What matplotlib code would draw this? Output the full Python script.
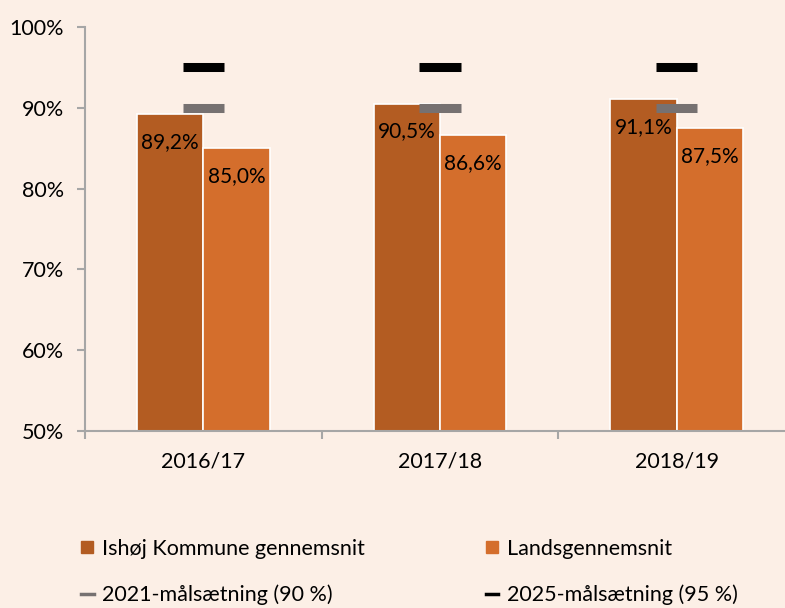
import numpy as np
import matplotlib
matplotlib.use("Agg")
import matplotlib.pyplot as plt
from matplotlib.lines import Line2D

# Data
years = ["2016/17", "2017/18", "2018/19"]
ishoj = [89.2, 90.5, 91.1]      # Ishøj Kommune gennemsnit (%)
lands = [85.0, 86.6, 87.5]      # Landsgennemsnit (%)
goal_2021 = [90, 90, 90]        # 2021-målsætning
goal_2025 = [95, 95, 95]        # 2025-målsætning

# Colours
bg = "#FCEFE6"
c_ishoj = "#B35C22"
c_lands = "#D46E2C"
c_2021 = "#767171"
c_2025 = "#000000"
c_axis = "#A6A6A6"

plt.rcParams["font.family"] = ["Lato", "DejaVu Sans"]

fig = plt.figure(figsize=(7.85, 6.08), dpi=100, facecolor=bg)
ax = fig.add_axes([0.1083, 0.2911, 0.9045, 0.6645])
ax.set_facecolor(bg)

x = np.arange(len(years))
w = 0.28
b1 = ax.bar(x - w / 2, ishoj, w, color=c_ishoj, edgecolor="white", linewidth=1.2, zorder=2)
b2 = ax.bar(x + w / 2, lands, w, color=c_lands, edgecolor="white", linewidth=1.2, zorder=2)

# target markers
ax.hlines(goal_2021, x - 0.087, x + 0.087, color=c_2021, linewidth=6.5, zorder=3)
ax.hlines(goal_2025, x - 0.087, x + 0.087, color=c_2025, linewidth=6.5, zorder=3)

# value labels inside the top of the bars
for bars, vals in [(b1, ishoj), (b2, lands)]:
    for rect, v in zip(bars, vals):
        ax.annotate(f"{v:.1f}%".replace(".", ","),
                    (rect.get_x() + rect.get_width() / 2, v),
                    xytext=(0, -20), textcoords="offset points",
                    ha="center", va="center", fontsize=15, color="black", zorder=4)

ax.set_ylim(50, 100)
ax.set_yticks(np.arange(50, 101, 10))
ax.set_yticklabels([f"{t}%" for t in range(50, 101, 10)])
ax.set_xlim(-0.5, 2.5)
ax.set_xticks([-0.5, 0.5, 1.5, 2.5])
ax.set_xticklabels([])
ax.set_xticks(x, minor=True)
ax.set_xticklabels(years, minor=True)

ax.tick_params(axis="y", length=6, width=1.5, color=c_axis, pad=9, labelsize=15.5)
ax.tick_params(axis="x", which="major", length=6, width=1.5, color=c_axis)
ax.tick_params(axis="x", which="minor", length=0, pad=15, labelsize=15.5)

for s in ["top", "right"]:
    ax.spines[s].set_visible(False)
for s in ["left", "bottom"]:
    ax.spines[s].set_color(c_axis)
    ax.spines[s].set_linewidth(1.5)

handles = [
    Line2D([], [], marker="s", color=c_ishoj, linestyle="none", markersize=8),
    Line2D([], [], color=c_2021, linewidth=2.5),
    Line2D([], [], marker="s", color=c_lands, linestyle="none", markersize=8),
    Line2D([], [], color=c_2025, linewidth=2.5),
]
labels = ["Ishøj Kommune gennemsnit", "2021-målsætning (90 %)",
          "Landsgennemsnit", "2025-målsætning (95 %)"]
fig.legend(handles, labels, ncol=2, loc="lower left", bbox_to_anchor=(0.078, -0.027),
           frameon=False, fontsize=15.5, handlelength=0.6, handletextpad=0.4,
           columnspacing=5.6, labelspacing=1.2)

fig.savefig("out.png", dpi=100, facecolor=bg)
